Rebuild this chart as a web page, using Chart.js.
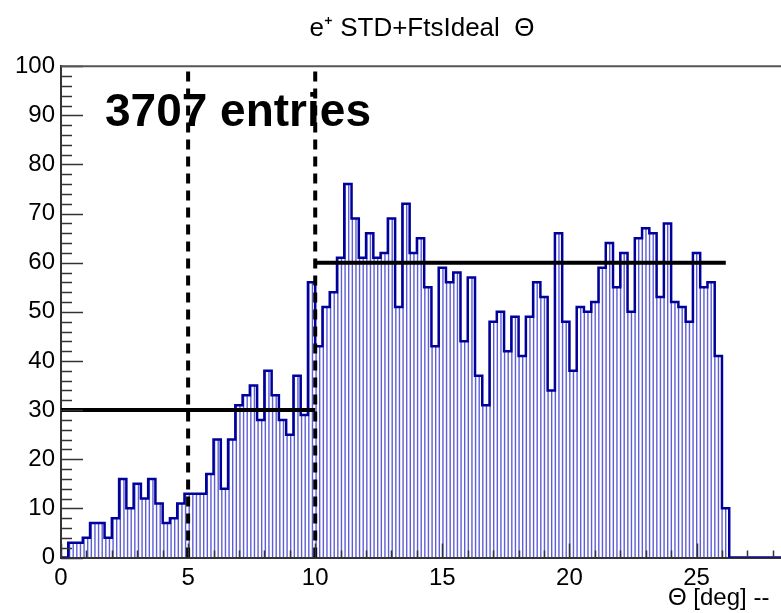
<!DOCTYPE html>
<html>
<head>
<meta charset="utf-8">
<script src="https://cdn.jsdelivr.net/npm/chart.js@4"></script>
<style>
  html, body { margin: 0; padding: 0; background: #fff; overflow: hidden; }
  canvas { display: block; }
</style>
</head>
<body>
<canvas id="thetaChart" width="844" height="613"></canvas>
<script>
// Theta distribution for e+ (STD+FtsIdeal), 105 bins between 0 and 30 deg
const binLow = 0;
const binHigh = 30;
const counts = [
    0, 3, 3, 4, 7, 7, 4, 8, 16, 10,
    15, 12, 16, 11, 7, 8, 11, 13, 13, 13,
    17, 24, 14, 24, 31, 33, 35, 28, 38, 33,
    28, 25, 37, 29, 56, 43, 51, 54, 61, 76,
    69, 61, 66, 61, 62, 69, 51, 72, 62, 65,
    55, 43, 59, 56, 58, 44, 57, 37, 31, 48,
    50, 42, 49, 41, 49, 56, 53, 34, 66, 48,
    38, 51, 50, 52, 59, 64, 55, 62, 50, 65,
    67, 66, 53, 68, 52, 51, 48, 62, 55, 56,
    41, 10, 0, 0, 0, 0, 0, 0, 0, 0,
    0, 0, 0, 0, 0
];

// reference levels and the theta cuts
const levelLow = { from: 0, to: 10, value: 30 };
const levelHigh = { from: 10, to: 26.15, value: 60 };
const thetaCuts = [5, 10];

// the frame runs a bit past the last bin edge
const xAxisMax = 30.8;
const xTicks = [0, 5, 10, 15, 20, 25, 30];
const yTicks = [0, 10, 20, 30, 40, 50, 60, 70, 80, 90, 100];

const titleText = 'e\u207A STD+FtsIdeal  \u0398';
const xTitle = '\u0398 [deg] --';

Chart.defaults.font.family = "'Liberation Sans', Arial, sans-serif";
Chart.defaults.color = '#000';

// histogram outline: one point per lower bin edge, plus the upper edge
const binWidth = (binHigh - binLow) / counts.length;
const histPoints = counts.map((c, i) => ({ x: binLow + i * binWidth, y: c }));
histPoints.push({ x: binHigh, y: 0 });
const entries = counts.reduce((s, c) => s + c, 0);

// vertical hatch (ROOT style fill), ~3.6 px spacing
function makeHatch() {
    const c = document.createElement('canvas');
    c.width = 29;
    c.height = 4;
    const g = c.getContext('2d');
    g.fillStyle = 'rgba(40, 40, 200, 0.75)';
    for (let k = 0; k < 8; k++) {
        g.fillRect(k * 3.625, 0, 1.4, 4);
    }
    return g.createPattern(c, 'repeat');
}
const hatch = makeHatch();

// inward ticks, frame top edge and the text labels
const rootFrame = {
    id: 'rootFrame',
    afterDatasetsDraw(chart) {
        const { ctx, chartArea: a, scales: { x, y } } = chart;
        ctx.save();
        ctx.strokeStyle = '#333';
        ctx.lineWidth = 1.5;
        ctx.beginPath();
        for (let v = 0; v <= 100; v += 2) {
            const py = Math.round(y.getPixelForValue(v)) + 0.5;
            const len = v % 10 === 0 ? 22 : 11;
            ctx.moveTo(a.left, py);
            ctx.lineTo(a.left + len, py);
        }
        for (let v = 0; v <= 30; v++) {
            const px = Math.round(x.getPixelForValue(v)) + 0.5;
            const len = v % 5 === 0 ? 14 : 7;
            ctx.moveTo(px, a.bottom);
            ctx.lineTo(px, a.bottom - len);
        }
        ctx.stroke();

        ctx.strokeStyle = '#555';
        ctx.lineWidth = 2;
        ctx.beginPath();
        ctx.moveTo(a.left, a.top);
        ctx.lineTo(a.right, a.top);
        ctx.stroke();

        ctx.fillStyle = '#000';
        ctx.textAlign = 'left';
        ctx.textBaseline = 'alphabetic';
        ctx.font = "bold 46px 'Liberation Sans', Arial, sans-serif";
        ctx.fillText(entries + ' entries', a.left + 44, a.top + 60);

        ctx.textBaseline = 'middle';
        ctx.font = "24px 'Liberation Sans', Arial, sans-serif";
        ctx.fillText(xTitle, a.left + 607, a.bottom + 41);
        ctx.restore();
    }
};

const ctx = document.getElementById('thetaChart').getContext('2d');
new Chart(ctx, {
    type: 'line',
    data: {
        datasets: [
            ...thetaCuts.map(t => ({
                data: [{ x: t, y: 0 }, { x: t, y: 100 }],
                borderColor: '#000',
                borderWidth: 4,
                borderDash: [10, 7],
                pointRadius: 0,
                order: 0
            })),
            ...[levelLow, levelHigh].map(l => ({
                data: [{ x: l.from, y: l.value }, { x: l.to, y: l.value }],
                borderColor: '#000',
                borderWidth: 4,
                pointRadius: 0,
                order: 0
            })),
            {
                data: histPoints,
                stepped: 'before',
                borderColor: '#00009a',
                borderWidth: 2.5,
                backgroundColor: hatch,
                fill: 'origin',
                pointRadius: 0,
                order: 1
            }
        ]
    },
    options: {
        responsive: false,
        animation: false,
        layout: { padding: 0 },
        plugins: {
            legend: { display: false },
            tooltip: { enabled: false },
            title: {
                display: true,
                text: titleText,
                color: '#000',
                font: { size: 26, weight: 'normal' },
                padding: { top: 13, bottom: 22 }
            }
        },
        scales: {
            x: {
                type: 'linear',
                min: binLow,
                max: xAxisMax,
                grid: { display: false, drawTicks: false },
                border: { color: '#333', width: 2 },
                afterBuildTicks: s => { s.ticks = xTicks.map(v => ({ value: v })); },
                ticks: { font: { size: 24 }, color: '#000', padding: 6, maxRotation: 0 },
                afterFit: s => { s.height = 55.5; }
            },
            y: {
                min: 0,
                max: 100,
                grid: { display: false, drawTicks: false },
                border: { color: '#333', width: 2 },
                afterBuildTicks: s => { s.ticks = yTicks.map(v => ({ value: v })); },
                ticks: { font: { size: 24 }, color: '#000', padding: 6 },
                afterFit: s => { s.width = 61; }
            }
        }
    },
    plugins: [rootFrame]
});
</script>
</body>
</html>
